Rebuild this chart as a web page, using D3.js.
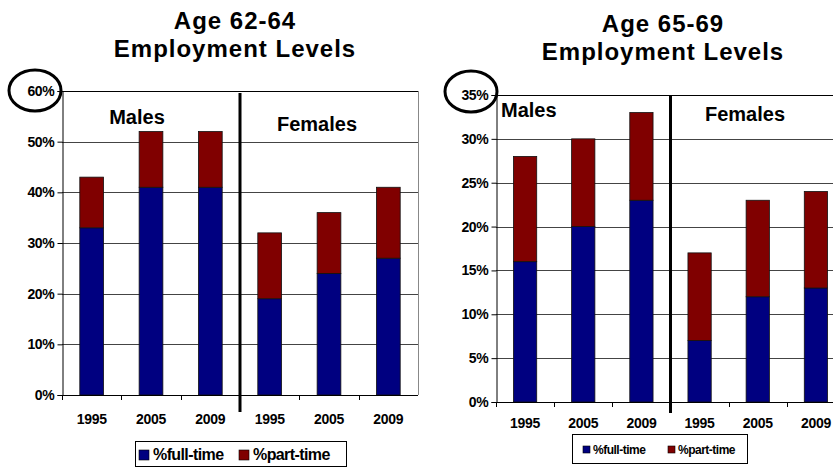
<!DOCTYPE html>
<html>
<head>
<meta charset="utf-8">
<script src="https://cdn.jsdelivr.net/npm/d3@7"></script>
<style>
  html, body { margin: 0; padding: 0; background: #fff; }
  svg { display: block; font-family: "Liberation Sans", Arial, sans-serif; }
</style>
</head>
<body>
<svg id="chart" width="833" height="469"></svg>
<script>
// Employment levels by age band, sex and year (percent of population)
const years = ["1995", "2005", "2009"];
const sexes = ["Males", "Females"];
const seriesNames = ["%full-time", "%part-time"];
const seriesColors = ["#000080", "#800000"];

const fullTime6264 = [33, 41, 41, 19, 24, 27];
const partTime6264 = [10, 11, 11, 13, 12, 14];
const fullTime6569 = [16, 20, 23, 7, 12, 13];
const partTime6569 = [12, 10, 10, 10, 11, 11];

const ticks6264 = [0, 10, 20, 30, 40, 50, 60];
const ticks6569 = [0, 5, 10, 15, 20, 25, 30, 35];

const svg = d3.select("#chart");

function drawPanel(cfg) {
  const g = svg.append("g");
  const cats = d3.range(sexes.length * years.length);
  const x = d3.scaleBand().domain(cats).range([cfg.x0, cfg.x1])
    .paddingInner(0.6).paddingOuter(0.3);
  const step = x.step();
  const y = d3.scaleLinear().domain([0, cfg.yMax]).range([cfg.yBottom, cfg.yTop]);

  // two-line title
  cfg.title.forEach((t, i) => {
    g.append("text").attr("text-anchor", "middle")
      .attr("font-weight", "bold").attr("font-size", 24).attr("letter-spacing", "1")
      .attr("fill", "#000")
      .attr("x", cfg.titleX).attr("y", cfg.titleY + i * 28).text(t);
  });

  // horizontal gridlines
  g.append("g").selectAll("line").data(cfg.ticks.filter(d => d > 0)).join("line")
    .attr("x1", cfg.x0).attr("x2", cfg.x1)
    .attr("y1", d => Math.round(y(d)) + 0.5).attr("y2", d => Math.round(y(d)) + 0.5)
    .attr("stroke", d => d === cfg.yMax ? "#000" : "#444").attr("stroke-width", 1);

  // right border of plot area
  g.append("line")
    .attr("x1", cfg.x1 + 0.5).attr("x2", cfg.x1 + 0.5)
    .attr("y1", y(cfg.yMax)).attr("y2", y(0))
    .attr("stroke", "#888");

  // stacked bars
  const stacks = cats.map(i => ({ i, full: cfg.full[i], part: cfg.part[i] }));
  const bars = g.append("g");
  bars.selectAll("rect.full").data(stacks).join("rect").attr("class", "full")
    .attr("x", d => x(d.i)).attr("width", x.bandwidth())
    .attr("y", d => y(d.full)).attr("height", d => y(0) - y(d.full))
    .attr("fill", seriesColors[0]).attr("stroke", "#111").attr("stroke-width", 0.8);
  bars.selectAll("rect.part").data(stacks).join("rect").attr("class", "part")
    .attr("x", d => x(d.i)).attr("width", x.bandwidth())
    .attr("y", d => y(d.full + d.part)).attr("height", d => y(d.full) - y(d.full + d.part))
    .attr("fill", seriesColors[1]).attr("stroke", "#111").attr("stroke-width", 0.8);

  // y axis
  const yAxis = d3.axisLeft(y).tickValues(cfg.ticks).tickFormat(d => d + "%")
    .tickSize(5).tickPadding(3);
  const ya = g.append("g").attr("transform", `translate(${cfg.x0 + 0.5},0)`).call(yAxis);
  ya.select(".domain").attr("stroke", "#000");
  ya.selectAll(".tick line").attr("stroke", "#000");
  ya.selectAll(".tick text").attr("font-size", 14).attr("font-weight", "bold")
    .attr("fill", "#000").attr("font-family", "'Liberation Sans', Arial, sans-serif")
    .attr("letter-spacing", "-0.3");

  // x axis: ticks at category boundaries, year labels under each bar
  const boundaries = d3.range(cats.length).map(i => x(i) - step * x.paddingOuter());
  const xa = g.append("g");
  xa.append("line").attr("x1", cfg.x0).attr("x2", cfg.x1)
    .attr("y1", y(0) + 0.5).attr("y2", y(0) + 0.5).attr("stroke", "#000");
  xa.selectAll("line.tk").data(boundaries).join("line").attr("class", "tk")
    .attr("x1", d => Math.round(d) + 0.5).attr("x2", d => Math.round(d) + 0.5)
    .attr("y1", y(0)).attr("y2", y(0) + 5).attr("stroke", "#000");
  xa.selectAll("text").data(cats).join("text")
    .attr("x", d => x(d) + x.bandwidth() / 2).attr("y", cfg.yearY)
    .attr("text-anchor", "middle").attr("font-size", 14).attr("font-weight", "bold")
    .attr("letter-spacing", "-0.3")
    .text(d => years[d % years.length]);

  // divider between the male and female groups
  const divX = x(years.length) - step * x.paddingOuter();
  g.append("line").attr("x1", divX).attr("x2", divX)
    .attr("y1", cfg.divTop).attr("y2", cfg.divBottom)
    .attr("stroke", "#000").attr("stroke-width", 3);

  // group labels
  cfg.groupLabels.forEach((gl, k) => {
    g.append("text").attr("x", gl.x).attr("y", gl.y).attr("text-anchor", gl.anchor)
      .attr("font-size", 20).attr("font-weight", "bold").text(sexes[k]);
  });

  // ring around the top axis value
  g.append("ellipse").attr("cx", cfg.ring.cx).attr("cy", cfg.ring.cy)
    .attr("rx", 26).attr("ry", 20.5)
    .attr("fill", "none").attr("stroke", "#000").attr("stroke-width", 3);

  // legend
  const L = cfg.legend;
  const lg = g.append("g");
  lg.append("rect").attr("x", L.x + 0.5).attr("y", L.y + 0.5).attr("width", L.w).attr("height", L.h)
    .attr("fill", "#fff").attr("stroke", "#000");
  seriesNames.forEach((name, k) => {
    lg.append("rect").attr("x", L.items[k]).attr("y", L.sqY)
      .attr("width", L.sq).attr("height", L.sq)
      .attr("fill", seriesColors[k]).attr("stroke", "#000").attr("stroke-width", 0.6);
    lg.append("text").attr("x", L.items[k] + L.sq + L.gap).attr("y", L.textY)
      .attr("font-size", L.fs).attr("font-weight", "bold").attr("letter-spacing", L.ls)
      .text(name);
  });
}

drawPanel({
  title: ["Age 62-64", "Employment Levels"], titleX: 235, titleY: 28.5,
  x0: 62, x1: 418, yTop: 91, yBottom: 395, yMax: 60, ticks: ticks6264,
  full: fullTime6264, part: partTime6264,
  yearY: 424, divTop: 93, divBottom: 412,
  groupLabels: [{ x: 137, y: 124, anchor: "middle" }, { x: 317, y: 131, anchor: "middle" }],
  ring: { cx: 35, cy: 90.5 },
  legend: { x: 135, y: 441, w: 211, h: 25, items: [139, 239], sq: 10, sqY: 450, gap: 4,
            textY: 460, fs: 16, ls: "-0.6" }
});

drawPanel({
  title: ["Age 65-69", "Employment Levels"], titleX: 663, titleY: 31.5,
  x0: 496, x1: 845, yTop: 95, yBottom: 402, yMax: 35, ticks: ticks6569,
  full: fullTime6569, part: partTime6569,
  yearY: 428, divTop: 95, divBottom: 413,
  groupLabels: [{ x: 501, y: 117, anchor: "start" }, { x: 745, y: 121, anchor: "middle" }],
  ring: { cx: 471, cy: 91.5 },
  legend: { x: 572, y: 434, w: 175, h: 29, items: [583, 668], sq: 7, sqY: 446, gap: 3,
            textY: 454, fs: 12, ls: "-0.5" }
});
</script>
</body>
</html>
